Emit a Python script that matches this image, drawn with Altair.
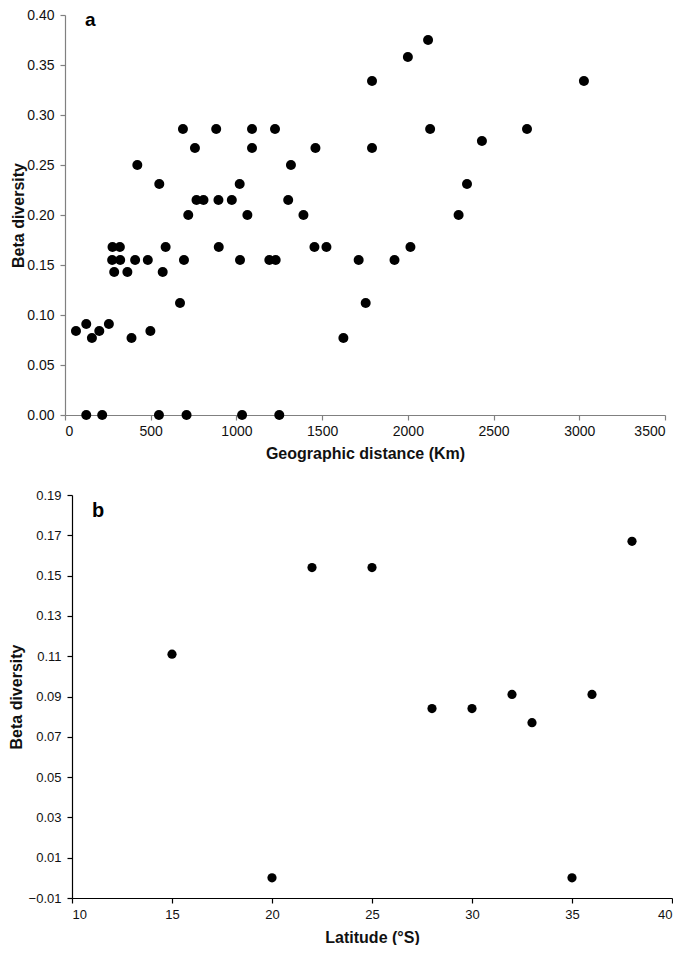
import altair as alt
import pandas as pd

# Panel a: geographic distance (km) vs beta diversity
dist_km = [124, 217, 548, 709, 1033, 1250,
           157, 388, 1624,
           64, 200, 498,
           124, 256,
           671, 1754,
           287, 364, 570,
           275, 322, 409, 483, 694, 1021, 1192, 1229, 1713, 1922,
           277, 320, 587, 897, 1455, 1525, 2015,
           719, 1064, 1391, 2296,
           767, 808, 895, 973, 1302,
           550, 1019, 2345,
           422, 1318,
           758, 1091, 1461, 1791,
           2432,
           688, 882, 1091, 1225, 2130, 2695,
           1791, 3027,
           2000,
           2118]
beta_a = [0.0, 0.0, 0.0, 0.0, 0.0, 0.0,
          0.077, 0.077, 0.077,
          0.084, 0.084, 0.084,
          0.091, 0.091,
          0.112, 0.112,
          0.143, 0.143, 0.143,
          0.155, 0.155, 0.155, 0.155, 0.155, 0.155, 0.155, 0.155, 0.155, 0.155,
          0.168, 0.168, 0.168, 0.168, 0.168, 0.168, 0.168,
          0.200, 0.200, 0.200, 0.200,
          0.215, 0.215, 0.215, 0.215, 0.215,
          0.231, 0.231, 0.231,
          0.250, 0.250,
          0.267, 0.267, 0.267, 0.267,
          0.274,
          0.286, 0.286, 0.286, 0.286, 0.286, 0.286,
          0.334, 0.334,
          0.358,
          0.375]

# Panel b: latitude (°S) vs beta diversity
latitude = [15, 20, 22, 25, 28, 30, 32, 33, 35, 36, 38]
beta_b = [0.111, 0.0, 0.154, 0.154, 0.084, 0.084, 0.091, 0.077, 0.0, 0.091, 0.167]

x_ticks_a = [0, 500, 1000, 1500, 2000, 2500, 3000, 3500]
y_ticks_a = [0.0, 0.05, 0.10, 0.15, 0.20, 0.25, 0.30, 0.35, 0.40]
x_ticks_b = [10, 15, 20, 25, 30, 35, 40]
y_ticks_b = [-0.01, 0.01, 0.03, 0.05, 0.07, 0.09, 0.11, 0.13, 0.15, 0.17, 0.19]

FONT = "Liberation Sans"

df_a = pd.DataFrame({"dist": dist_km, "beta": beta_a})
df_b = pd.DataFrame({"lat": latitude, "beta": beta_b})


def axis(values, fmt, color, label_size, label_pad, title_pad, **kw):
    return alt.Axis(values=values, format=fmt, grid=False, domainColor=color,
                    domainWidth=1.2, tickColor=color, tickWidth=1.2, tickSize=5,
                    labelColor="#111", labelFont=FONT, labelFontSize=label_size,
                    labelPadding=label_pad, titleFont=FONT, titleFontSize=16,
                    titleFontWeight="bold", titleColor="#111",
                    titlePadding=title_pad, **kw)


WA = 600
SHIFT_B = 7

pts_a = alt.Chart(df_a).mark_circle(size=100, color="black", opacity=1).encode(
    x=alt.X("dist:Q", scale=alt.Scale(domain=[0, 3500], nice=False),
            axis=axis(x_ticks_a, "d", "#808080", 14, 4, 7),
            title="Geographic distance (Km)"),
    y=alt.Y("beta:Q", scale=alt.Scale(domain=[0, 0.40], nice=False),
            axis=axis(y_ticks_a, ".2f", "#808080", 14, 6, 0),
            title="Beta diversity"),
)
lab_a = alt.Chart(pd.DataFrame({"t": ["a"]})).mark_text(
    font=FONT, fontSize=19, fontWeight="bold", align="left", baseline="middle",
    color="black").encode(text="t:N", x=alt.value(20), y=alt.value(5))
panel_a = (pts_a + lab_a).properties(width=WA, height=400)

pts_b = alt.Chart(df_b).mark_circle(size=85, color="black", opacity=1).encode(
    x=alt.X("lat:Q", scale=alt.Scale(domain=[10, 40], nice=False,
                                     range=[SHIFT_B, WA + SHIFT_B]),
            axis=axis(x_ticks_b, "d", "black", 13, 5, 8),
            title="Latitude (°S)"),
    y=alt.Y("beta:Q", scale=alt.Scale(domain=[-0.01, 0.19], nice=False),
            axis=axis(y_ticks_b, ".2f", "black", 13, 6, 4, offset=-SHIFT_B),
            title="Beta diversity"),
)
lab_b = alt.Chart(pd.DataFrame({"t": ["b"]})).mark_text(
    font=FONT, fontSize=20, fontWeight="bold", align="left", baseline="middle",
    color="black").encode(text="t:N", x=alt.value(20 + SHIFT_B), y=alt.value(16))
panel_b = (pts_b + lab_b).properties(width=WA + SHIFT_B, height=403)

chart = alt.concat(panel_a, panel_b, columns=1, spacing=28, align="none").properties(
    padding={"left": 0, "top": 0, "right": 0, "bottom": 0}
).configure_view(stroke=None)

chart.save("out.html", embed_options={"renderer": "svg", "actions": False})
